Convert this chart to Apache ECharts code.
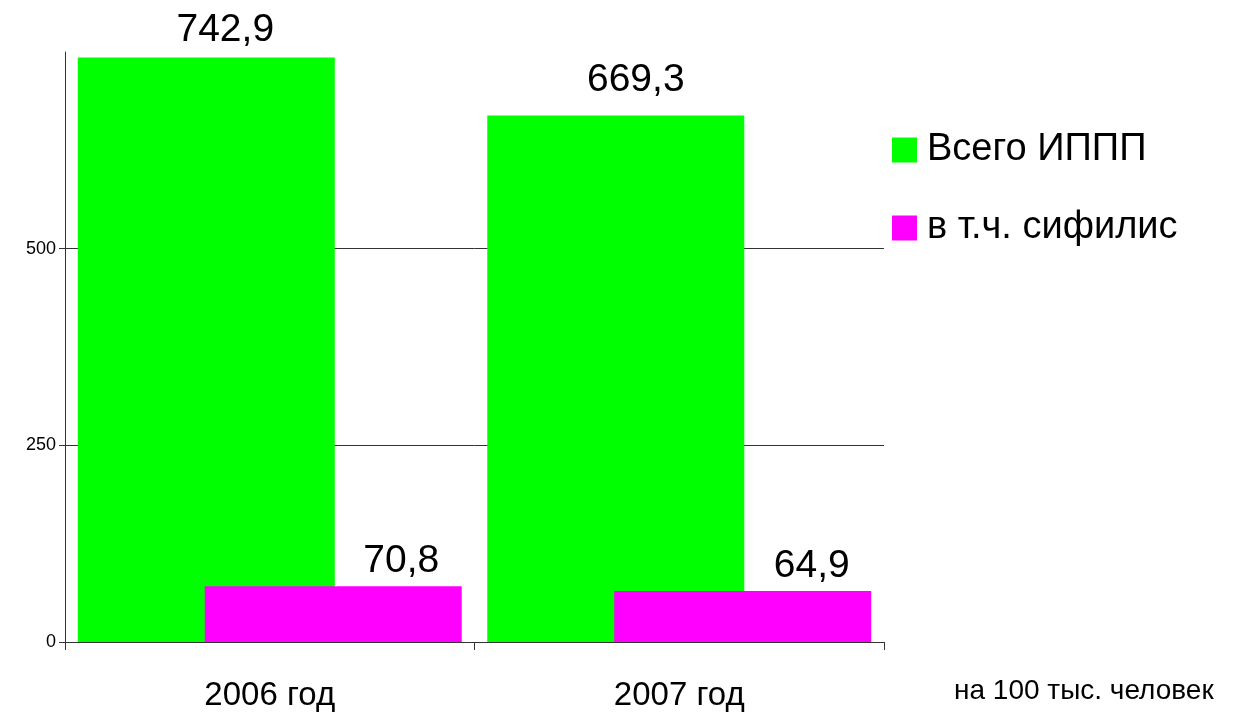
<!DOCTYPE html>
<html>
<head>
<meta charset="utf-8">
<script src="https://cdn.jsdelivr.net/npm/echarts@6/dist/echarts.min.js"></script>
<style>html,body{margin:0;padding:0;background:#fff}#c{width:1238px;height:713px}</style>
</head>
<body>
<div id="c"></div>
<script>
const categories = ['2006 год', '2007 год'];
const seriesNames = ['Всего ИППП', 'в т.ч. сифилис'];
const totalValues = [742.9, 669.3];
const syphilisValues = [70.8, 64.9];
const yTickValues = [0, 250, 500];
const gridValues = [250, 500];
const unitNote = 'на 100 тыс. человек';

// label placement styles (not data)
const totalLabelOffsets = [[19, 0], [20, -8]];
const syphLabelOffsets = [[68, 2], [69, 3]];

const FONT = '"Liberation Sans", Arial, sans-serif';
const fmt = v => v.toFixed(1).replace('.', ',');

const chart = echarts.init(document.getElementById('c'), null, {renderer: 'canvas'});
chart.setOption({
  animation: false,
  backgroundColor: '#ffffff',
  textStyle: {fontFamily: FONT},
  title: {
    text: unitNote,
    left: 954, top: 677,
    padding: 0,
    textStyle: {fontFamily: FONT, fontSize: 28, fontWeight: 'normal', color: '#000'}
  },
  legend: {
    orient: 'vertical',
    left: 892, top: 131,
    padding: 0,
    itemWidth: 25, itemHeight: 25,
    itemGap: 40,
    icon: 'rect',
    data: seriesNames,
    textStyle: {fontFamily: FONT, fontSize: 38, color: '#000', lineHeight: 37, padding: [0, 0, 0, 5]}
  },
  grid: {left: 65, right: 354, top: 52, bottom: 71},
  xAxis: {
    type: 'category',
    data: categories,
    boundaryGap: true,
    axisLine: {lineStyle: {color: '#333', width: 1}},
    axisTick: {show: true, length: 8, lineStyle: {color: '#333'}},
    axisLabel: {fontFamily: FONT, fontSize: 33, color: '#000', margin: 37}
  },
  yAxis: {
    type: 'value',
    min: 0, max: 750, interval: 250,
    axisLine: {show: true, lineStyle: {color: '#333', width: 1}},
    axisTick: {show: true, inside: false, length: 6, customValues: yTickValues, lineStyle: {color: '#333'}},
    axisLabel: {fontFamily: FONT, fontSize: 18, color: '#000', margin: 9, customValues: yTickValues},
    splitLine: {show: false}
  },
  series: [
    {
      name: seriesNames[0],
      type: 'bar',
      data: totalValues.map((v, i) => ({value: v, label: {offset: totalLabelOffsets[i]}})),
      barWidth: 257,
      barGap: '-50.6%',
      itemStyle: {color: '#00ff00'},
      label: {
        show: true, position: 'top', distance: 8,
        formatter: p => fmt(p.value),
        fontFamily: FONT, fontSize: 39, color: '#000'
      },
      markLine: {
        silent: true, symbol: 'none', z: 1,
        label: {show: false},
        lineStyle: {color: '#333', width: 1, type: 'solid'},
        data: gridValues.map(v => ({yAxis: v}))
      },
      z: 2
    },
    {
      name: seriesNames[1],
      type: 'bar',
      data: syphilisValues.map((v, i) => ({value: v, label: {offset: syphLabelOffsets[i]}})),
      barWidth: 257,
      itemStyle: {color: '#ff00ff'},
      label: {
        show: true, position: 'top', distance: 8,
        formatter: p => fmt(p.value),
        fontFamily: FONT, fontSize: 39, color: '#000'
      },
      z: 3
    }
  ]
});
</script>
</body>
</html>
